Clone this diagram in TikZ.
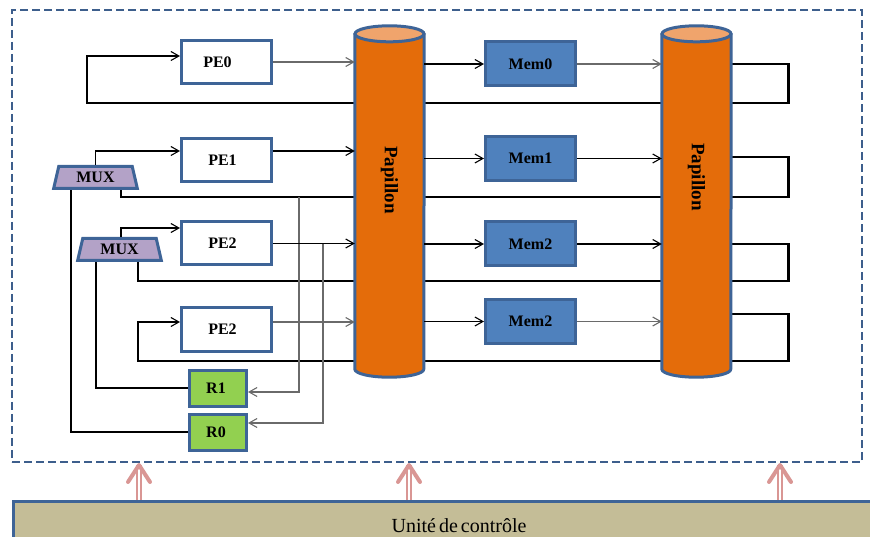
\documentclass[tikz,border=0pt]{standalone}
\usepackage{fontspec}
\setmainfont{Liberation Serif}
\usetikzlibrary{arrows.meta,shapes.geometric,calc}
\definecolor{bord}{HTML}{3E6497}
\definecolor{memfill}{HTML}{4F81BD}
\definecolor{muxfill}{HTML}{B3A2C7}
\definecolor{rfill}{HTML}{92D050}
\definecolor{cylfill}{HTML}{E46C0A}
\definecolor{cyltopc}{HTML}{F0A46C}
\definecolor{cufill}{HTML}{C4BD97}
\definecolor{pinkc}{HTML}{D99694}
\definecolor{dashc}{HTML}{3D5E8C}
\definecolor{grayc}{HTML}{6A6A6A}
\pgfdeclarelayer{bg}
\pgfsetlayers{bg,main}
\newcommand{\padr}[1]{\rule{#1}{0pt}}
\begin{document}
\begin{tikzpicture}[x=1pt,y=-1pt,
  lbl/.style={font=\fontsize{16}{19}\selectfont\bfseries},
  box/.style={draw=bord,line width=3pt,rectangle,inner sep=0pt,lbl},
  pebox/.style={box,fill=white,minimum width=90pt,minimum height=43pt},
  membox/.style={box,fill=memfill,minimum width=90pt,minimum height=44pt},
  rbox/.style={box,fill=rfill,minimum width=57pt,minimum height=36pt},
  muxbox/.style={draw=bord,line width=3pt,fill=muxfill,lbl,inner sep=0pt,
     trapezium,trapezium left angle=76,trapezium right angle=76,
     trapezium stretches=true,minimum width=84pt,minimum height=22pt},
  cylnode/.style={rectangle,inner sep=0pt,minimum width=69pt,minimum height=335pt},
  cylbody/.style={draw=bord,line width=3pt,fill=cylfill,line join=round},
  cyltop/.style={draw=bord,line width=3pt,fill=cyltopc},
  papillon/.style={font=\fontsize{19}{22}\selectfont\bfseries,rotate=-90},
  conn/.style={line width=1.1pt,black},
  tk/.style={line width=2.4pt,black},
  loopl/.style={line width=1.5pt,black},
  riser/.style={line width=3pt,black,shorten <=-0.75pt,shorten >=-0.75pt},
  arr/.style={-{Straight Barb[length=8pt,width=9pt,line width=1.1pt]}},
  gr/.style={draw=grayc,line width=1.4pt},
  pinkshaft/.style={draw=pinkc,line width=1.5pt,double=white,double distance=2.2pt,shorten >=3pt},
  pinkhead/.style={draw=pinkc,line width=4pt,line cap=round,line join=round},
]
\useasboundingbox (0,0) rectangle (870,537);
\clip (0,0) rectangle (870,537);

% frame and control unit
\node[draw=dashc,line width=2.5pt,dash pattern=on 8pt off 4pt,rectangle,inner sep=0pt,
      minimum width=850pt,minimum height=452pt] (frame) at (437,236) {};
\node[draw=bord,line width=2.5pt,fill=cufill,rectangle,inner sep=0pt,anchor=north west,
      minimum width=900pt,minimum height=60pt] (cu) at (12,500) {};
\node[font=\fontsize{20}{24}\selectfont] (cutext) at (459,526) {Unité\hspace{3pt}de\hspace{3pt}contrôle};

% cylinder anchors
\node[cylnode] (cyl1) at (389.5,201.5) {};
\node[cylnode] (cyl2) at (696.5,201.5) {};

% boxes
\node[pebox] (pe0) at (226.5,62) {PE0\padr{18pt}};
\node[pebox] (pe1) at (226.5,160) {PE1\padr{8pt}};
\node[pebox] (pe2) at (226.5,243.5) {PE2\padr{8pt}};
\node[pebox] (pe3) at (226.5,329.5) {PE2\padr{8pt}};
\node[membox] (mem0) at (530.5,64) {Mem0};
\node[membox] (mem1) at (530.5,158.5) {Mem1};
\node[membox] (mem2) at (530.5,244) {Mem2};
\node[membox] (mem3) at (530.5,321.5) {Mem2};
\node[rbox] (r1) at (218,388) {R1\padr{4pt}};
\node[rbox] (r0) at (218,432) {R0\padr{4pt}};
\node[muxbox] (mux1) at (95.5,177.5) {MUX};
\node[muxbox] (mux2) at (119.5,249.5) {MUX};

% bend points
\coordinate (k0a) at (788,64);   \coordinate (k0b) at (788,103);
\coordinate (k1a) at (788,157);  \coordinate (k1b) at (788,197);
\coordinate (k2a) at (788,244);  \coordinate (k2b) at (788,281);
\coordinate (k3a) at (788,314);  \coordinate (k3b) at (788,361);
\coordinate (j1) at (299,197);
\coordinate (j2) at (323,244);
\coordinate (p1o) at ([yshift=9pt]pe1.east);
\coordinate (p3o) at ([yshift=7.5pt]pe3.east);

% lines passing behind the cylinders
\begin{pgfonlayer}{bg}
\draw[loopl,arr] (k0a -| cyl2.east) -- (k0a) -- (k0b) -- (87,103) -- (87,56) -- ([yshift=6pt]pe0.west);
\draw[tk] ([xshift=25.5pt]mux1.south) |- (k1b) -- (k1a) -- (k1a -| cyl2.east);
\draw[loopl] ([xshift=18.5pt]mux2.south) |- (k2b) -- (k2a) -- (k2a -| cyl2.east);
\draw[loopl,arr] (k3a -| cyl2.east) -- (k3a) -- (k3b) -- (138,361) |- ([yshift=7.5pt]pe3.west);
\foreach \n in {0,1,2,3} { \draw[riser] (k\n a) -- (k\n b); }
\end{pgfonlayer}

% cylinders
\foreach \c in {cyl1,cyl2} {
  \draw[cylbody] (\c.north west) -- (\c.south west)
     arc[start angle=180,end angle=360,x radius=34.5pt,y radius=8pt] -- (\c.north east) -- cycle;
  \draw[cyltop] (\c.north) ellipse [x radius=34.5pt,y radius=8pt];
}
\node[papillon] (pap1) at (389.5,180) {Papillon};
\node[papillon] (pap2) at (696.5,177) {Papillon};

% row 0
\draw[conn,gr,arr] (pe0.east) -- (pe0.east -| cyl1.west);
\draw[conn,arr] (mem0.west -| cyl1.east) -- (mem0.west);
\draw[conn,gr,arr] (mem0.east) -- (mem0.east -| cyl2.west);

% row 1
\draw[conn,arr] (mux1.north) |- ([yshift=9pt]pe1.west);
\draw[conn,arr] (p1o) -- (p1o -| cyl1.west);
\draw[conn,arr] (mem1.west -| cyl1.east) -- (mem1.west);
\draw[conn,arr] (mem1.east) -- (mem1.east -| cyl2.west);
\draw[conn,gr,arr] (j1) |- ([yshift=-4pt]r1.east);
\draw[tk] ([xshift=-24.5pt]mux1.south) |- (r0.west);

% row 2
\draw[conn,arr] ([xshift=1.5pt]mux2.north) |- ([yshift=15.5pt]pe2.west);
\draw[conn,arr] (pe2.east) -- (pe2.east -| cyl1.west);
\draw[conn,gr,arr] (j2) |- ([yshift=9pt]r0.east);
\draw[conn,arr] (mem2.west -| cyl1.east) -- (mem2.west);
\draw[conn,arr] (mem2.east) -- (mem2.east -| cyl2.west);
\draw[tk] ([xshift=-23.5pt]mux2.south) |- (r1.west);

% row 3
\draw[conn,gr,arr] (p3o) -- (p3o -| cyl1.west);
\draw[conn,arr] (mem3.west -| cyl1.east) -- (mem3.west);
\draw[conn,gr,arr] (mem3.east) -- (mem3.east -| cyl2.west);

% control arrows
\foreach \x/\n in {139/1,409/2,780/3} {
  \coordinate (u\n) at (\x,500);
  \coordinate (d\n) at (\x,462);
  \draw[pinkshaft] (u\n) -- (d\n);
  \draw[pinkhead] ([shift={(-11,20)}]d\n) -- ([shift={(0,3)}]d\n) -- ([shift={(11,20)}]d\n);
}
\end{tikzpicture}
\end{document}
